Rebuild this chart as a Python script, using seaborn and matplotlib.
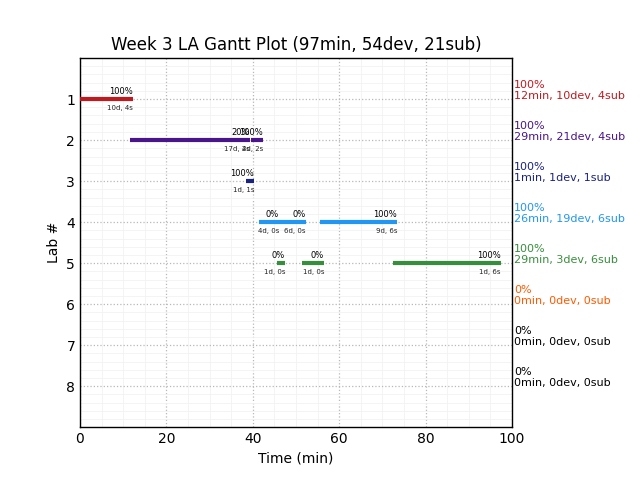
import matplotlib
matplotlib.use("Agg")
import matplotlib.pyplot as plt
import seaborn as sns
import pandas as pd
from matplotlib.ticker import MultipleLocator

sns.set_theme(style="white")
plt.rcParams['font.family'] = ['DejaVu Sans']

title = "Week 3 LA Gantt Plot (97min, 54dev, 21sub)"

# segments
seg_lab = [1, 2, 2, 3, 4, 4, 4, 5, 5, 5]
seg_start = [0.0, 11.6, 39.6, 38.4, 41.4, 46.1, 55.6, 45.5, 51.5, 72.4]
seg_end = [12.3, 39.4, 42.4, 40.3, 46.1, 52.3, 73.4, 47.5, 56.5, 97.4]
seg_pct = ["100%", "20%", "100%", "100%", "0%", "0%", "100%", "0%", "0%", "100%"]
seg_dev = [10, 17, 4, 1, 4, 6, 9, 1, 1, 1]
seg_sub = [4, 2, 2, 1, 0, 0, 6, 0, 0, 6]

# per-lab summary
labs = [1, 2, 3, 4, 5, 6, 7, 8]
lab_pct = ["100%", "100%", "100%", "100%", "100%", "0%", "0%", "0%"]
lab_min = [12, 29, 1, 26, 29, 0, 0, 0]
lab_dev = [10, 21, 1, 19, 3, 0, 0, 0]
lab_sub = [4, 4, 1, 6, 6, 0, 0, 0]
lab_colors = ["#c0191f", "#4a148c", "#1a237e", "#2196f3", "#388e3c",
              "#ff5a00", "#000000", "#000000"]

df = pd.DataFrame({"lab": seg_lab, "start": seg_start, "end": seg_end,
                   "pct": seg_pct, "dev": seg_dev, "sub": seg_sub})

fig = plt.figure(figsize=(6.4, 4.8), dpi=100)
ax = fig.add_axes([0.125, 0.110, 0.675, 0.769])

for _, r in df.iterrows():
    c = lab_colors[int(r["lab"]) - 1]
    ax.hlines(r["lab"], r["start"], r["end"], color=c, lw=3, zorder=3)
    ax.text(r["end"], r["lab"] - 0.07, r["pct"], ha="right", va="bottom",
            fontsize=6, color="black", zorder=4)
    ax.text(r["end"], r["lab"] + 0.15, f'{r["dev"]}d, {r["sub"]}s', ha="right",
            va="top", fontsize=5, color="#222222", zorder=4)

for i, lab in enumerate(labs):
    ax.text(100.5, lab + 0.05,
            f"{lab_pct[i]}\n{lab_min[i]}min, {lab_dev[i]}dev, {lab_sub[i]}sub",
            ha="left", va="bottom", fontsize=8, color=lab_colors[i],
            clip_on=False)

ax.set_xlim(0, 100)
ax.set_ylim(9, 0)
ax.set_yticks(labs)
ax.set_xticks([0, 20, 40, 60, 80, 100])
ax.xaxis.set_minor_locator(MultipleLocator(5))
ax.yaxis.set_minor_locator(MultipleLocator(0.2))
ax.grid(which="major", color="#b8b8b8", linestyle=":", linewidth=0.9, zorder=1)
ax.grid(which="minor", color="#f2f2f2", linestyle="-", linewidth=0.6, zorder=0)
ax.set_axisbelow(True)
ax.tick_params(which="both", length=0, labelsize=10, colors="black")
for s in ax.spines.values():
    s.set_color("black")
    s.set_linewidth(1.0)
ax.set_xlabel("Time (min)", fontsize=10, color="black")
ax.set_ylabel("Lab #", fontsize=10, color="black")
ax.set_title(title, fontsize=12, color="black")

fig.savefig("out.png", dpi=100)
